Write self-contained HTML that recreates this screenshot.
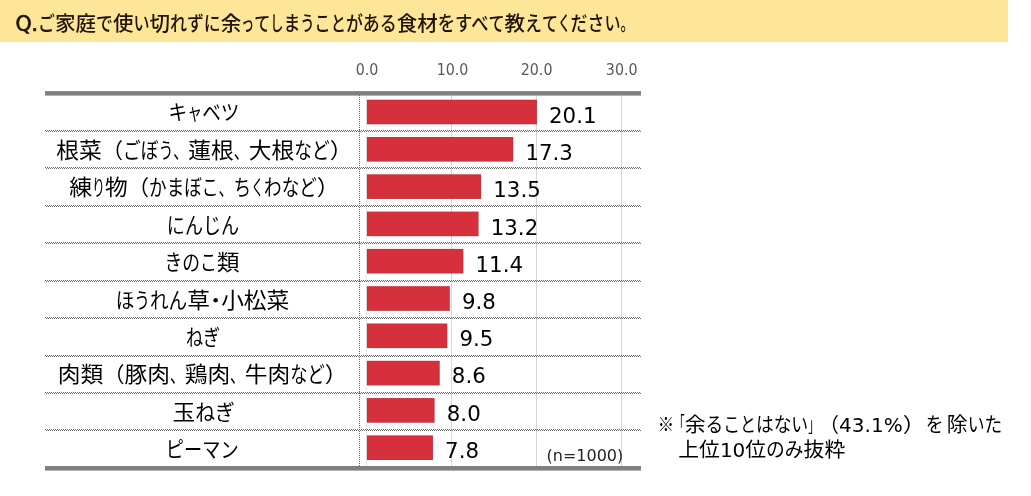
<!DOCTYPE html>
<html lang="ja"><head><meta charset="utf-8"><title>chart</title>
<style>
html,body{margin:0;padding:0;background:#fff;}
body{width:1031px;height:496px;overflow:hidden;}
svg{display:block}
text.c,tspan.c{font-family:'Liberation Sans','Noto Sans CJK JP',sans-serif;}
text.l,tspan.l{font-family:'DejaVu Sans','Liberation Sans',sans-serif;}
</style></head><body>
<svg width="1031" height="496" viewBox="0 0 1031 496">
<rect x="0" y="0" width="1008" height="42" fill="#FEE698"/>
<text y="30.60" font-size="20.5" fill="#20140a" font-weight="500"><tspan class="l" x="15.41" stroke="#20140a" stroke-width="0.7" textLength="22.65" lengthAdjust="spacingAndGlyphs">Q.</tspan><tspan class="c" x="38.06" textLength="16.93" lengthAdjust="spacingAndGlyphs">ご</tspan><tspan class="c" x="54.99" textLength="41.00" lengthAdjust="spacingAndGlyphs">家庭</tspan><tspan class="c" x="95.99" textLength="16.93" lengthAdjust="spacingAndGlyphs">で</tspan><tspan class="c" x="112.92" textLength="20.50" lengthAdjust="spacingAndGlyphs">使</tspan><tspan class="c" x="133.42" textLength="16.08" lengthAdjust="spacingAndGlyphs">い</tspan><tspan class="c" x="149.50" textLength="20.50" lengthAdjust="spacingAndGlyphs">切</tspan><tspan class="c" x="170.00" textLength="50.79" lengthAdjust="spacingAndGlyphs">れずに</tspan><tspan class="c" x="220.79" textLength="20.50" lengthAdjust="spacingAndGlyphs">余</tspan><tspan class="c" x="241.29" textLength="12.87" lengthAdjust="spacingAndGlyphs">っ</tspan><tspan class="c" x="254.16" textLength="16.08" lengthAdjust="spacingAndGlyphs">て</tspan><tspan class="c" x="270.24" textLength="13.20" lengthAdjust="spacingAndGlyphs">し</tspan><tspan class="c" x="283.44" textLength="16.93" lengthAdjust="spacingAndGlyphs">ま</tspan><tspan class="c" x="300.37" textLength="14.22" lengthAdjust="spacingAndGlyphs">う</tspan><tspan class="c" x="314.59" textLength="16.08" lengthAdjust="spacingAndGlyphs">こ</tspan><tspan class="c" x="330.67" textLength="15.24" lengthAdjust="spacingAndGlyphs">と</tspan><tspan class="c" x="345.91" textLength="50.79" lengthAdjust="spacingAndGlyphs">がある</tspan><tspan class="c" x="396.70" textLength="41.00" lengthAdjust="spacingAndGlyphs">食材</tspan><tspan class="c" x="437.70" textLength="50.79" lengthAdjust="spacingAndGlyphs">をすべ</tspan><tspan class="c" x="488.48" textLength="16.08" lengthAdjust="spacingAndGlyphs">て</tspan><tspan class="c" x="504.57" textLength="20.50" lengthAdjust="spacingAndGlyphs">教</tspan><tspan class="c" x="525.07" textLength="16.93" lengthAdjust="spacingAndGlyphs">え</tspan><tspan class="c" x="542.00" textLength="16.08" lengthAdjust="spacingAndGlyphs">て</tspan><tspan class="c" x="558.08" textLength="12.53" lengthAdjust="spacingAndGlyphs">く</tspan><tspan class="c" x="570.61" textLength="33.86" lengthAdjust="spacingAndGlyphs">ださ</tspan><tspan class="c" x="604.46" textLength="16.08" lengthAdjust="spacingAndGlyphs">い</tspan><tspan class="c" x="620.55" textLength="13.54" lengthAdjust="spacingAndGlyphs">。</tspan></text>
<rect x="366" y="95" width="1" height="372" fill="#E6E6E6"/>
<rect x="451" y="95" width="1" height="372" fill="#D6D6D6"/>
<rect x="536" y="95" width="1" height="372" fill="#D6D6D6"/>
<rect x="621" y="95" width="1" height="372" fill="#D6D6D6"/>
<text class="l" x="355.67" y="75.3" font-size="15.0" fill="#595959" textLength="22.66" lengthAdjust="spacingAndGlyphs">0.0</text>
<text class="l" x="436.64" y="75.3" font-size="15.0" fill="#595959" textLength="31.73" lengthAdjust="spacingAndGlyphs">10.0</text>
<text class="l" x="520.74" y="75.3" font-size="15.0" fill="#595959" textLength="31.73" lengthAdjust="spacingAndGlyphs">20.0</text>
<text class="l" x="605.84" y="75.3" font-size="15.0" fill="#595959" textLength="31.73" lengthAdjust="spacingAndGlyphs">30.0</text>
<rect x="366.9" y="99.70" width="169.95" height="24.6" fill="#BC3240"/>
<rect x="367.5" y="100.40" width="168.75" height="23.2" fill="#D5303B"/>
<text y="120.33" font-size="21.33" fill="#000"><tspan class="c" x="168.58" textLength="18.64" lengthAdjust="spacingAndGlyphs">キ</tspan><tspan class="c" x="187.22" textLength="14.91" lengthAdjust="spacingAndGlyphs">ャ</tspan><tspan class="c" x="202.14" textLength="37.29" lengthAdjust="spacingAndGlyphs">ベツ</tspan></text>
<text class="l" x="549.05" y="122.90" font-size="21.33" fill="#000" textLength="47.49" lengthAdjust="spacingAndGlyphs">20.1</text>
<line x1="45" x2="641" y1="130.5" y2="130.5" stroke="#686868" stroke-width="1" stroke-dasharray="1 1"/>
<line x1="45" x2="641" y1="131.5" y2="131.5" stroke="#686868" stroke-width="1" stroke-dasharray="1 1" stroke-dashoffset="1"/>
<rect x="366.9" y="137.00" width="146.28" height="24.6" fill="#BC3240"/>
<rect x="367.5" y="137.70" width="145.08" height="23.2" fill="#D5303B"/>
<text y="157.78" font-size="21.33" fill="#000"><tspan class="c" x="56.29" textLength="45.43" lengthAdjust="spacingAndGlyphs">根菜</tspan><tspan class="c" x="101.73" textLength="21.33" lengthAdjust="spacingAndGlyphs">（</tspan><tspan class="c" x="123.06" textLength="35.40" lengthAdjust="spacingAndGlyphs">ごぼ</tspan><tspan class="c" x="158.46" textLength="14.87" lengthAdjust="spacingAndGlyphs">う</tspan><tspan class="c" x="173.33" textLength="15.05" lengthAdjust="spacingAndGlyphs">、</tspan><tspan class="c" x="188.38" textLength="45.43" lengthAdjust="spacingAndGlyphs">蓮根</tspan><tspan class="c" x="233.81" textLength="15.05" lengthAdjust="spacingAndGlyphs">、</tspan><tspan class="c" x="248.86" textLength="45.43" lengthAdjust="spacingAndGlyphs">大根</tspan><tspan class="c" x="294.29" textLength="35.40" lengthAdjust="spacingAndGlyphs">など</tspan><tspan class="c" x="329.69" textLength="23.01" lengthAdjust="spacingAndGlyphs">）</tspan></text>
<text class="l" x="525.38" y="160.12" font-size="21.33" fill="#000" textLength="47.49" lengthAdjust="spacingAndGlyphs">17.3</text>
<line x1="45" x2="641" y1="167.5" y2="167.5" stroke="#686868" stroke-width="1" stroke-dasharray="1 1"/>
<line x1="45" x2="641" y1="168.5" y2="168.5" stroke="#686868" stroke-width="1" stroke-dasharray="1 1" stroke-dashoffset="1"/>
<rect x="366.9" y="174.30" width="114.18" height="24.6" fill="#BC3240"/>
<rect x="367.5" y="175.00" width="112.98" height="23.2" fill="#D5303B"/>
<text y="195.22" font-size="21.33" fill="#000"><tspan class="c" x="69.32" textLength="22.72" lengthAdjust="spacingAndGlyphs">練</tspan><tspan class="c" x="92.03" textLength="13.01" lengthAdjust="spacingAndGlyphs">り</tspan><tspan class="c" x="105.05" textLength="22.72" lengthAdjust="spacingAndGlyphs">物</tspan><tspan class="c" x="127.76" textLength="21.33" lengthAdjust="spacingAndGlyphs">（</tspan><tspan class="c" x="149.09" textLength="52.75" lengthAdjust="spacingAndGlyphs">かまぼ</tspan><tspan class="c" x="201.84" textLength="16.70" lengthAdjust="spacingAndGlyphs">こ</tspan><tspan class="c" x="218.54" textLength="14.94" lengthAdjust="spacingAndGlyphs">、</tspan><tspan class="c" x="233.49" textLength="17.58" lengthAdjust="spacingAndGlyphs">ち</tspan><tspan class="c" x="251.07" textLength="13.01" lengthAdjust="spacingAndGlyphs">く</tspan><tspan class="c" x="264.08" textLength="52.75" lengthAdjust="spacingAndGlyphs">わなど</tspan><tspan class="c" x="316.83" textLength="22.86" lengthAdjust="spacingAndGlyphs">）</tspan></text>
<text class="l" x="493.27" y="197.34" font-size="21.33" fill="#000" textLength="47.49" lengthAdjust="spacingAndGlyphs">13.5</text>
<line x1="45" x2="641" y1="205.5" y2="205.5" stroke="#686868" stroke-width="1" stroke-dasharray="1 1"/>
<line x1="45" x2="641" y1="206.5" y2="206.5" stroke="#686868" stroke-width="1" stroke-dasharray="1 1" stroke-dashoffset="1"/>
<rect x="366.9" y="211.60" width="111.64" height="24.6" fill="#BC3240"/>
<rect x="367.5" y="212.30" width="110.44" height="23.2" fill="#D5303B"/>
<text y="232.67" font-size="21.33" fill="#000"><tspan class="c" x="166.87" textLength="72.26" lengthAdjust="spacingAndGlyphs">にんじん</tspan></text>
<text class="l" x="490.74" y="234.56" font-size="21.33" fill="#000" textLength="47.49" lengthAdjust="spacingAndGlyphs">13.2</text>
<line x1="45" x2="641" y1="242.5" y2="242.5" stroke="#686868" stroke-width="1" stroke-dasharray="1 1"/>
<line x1="45" x2="641" y1="243.5" y2="243.5" stroke="#686868" stroke-width="1" stroke-dasharray="1 1" stroke-dashoffset="1"/>
<rect x="366.9" y="248.90" width="96.43" height="24.6" fill="#BC3240"/>
<rect x="367.5" y="249.60" width="95.23" height="23.2" fill="#D5303B"/>
<text y="270.12" font-size="21.33" fill="#000"><tspan class="c" x="164.47" textLength="35.48" lengthAdjust="spacingAndGlyphs">きの</tspan><tspan class="c" x="199.96" textLength="16.85" lengthAdjust="spacingAndGlyphs">こ</tspan><tspan class="c" x="216.81" textLength="22.72" lengthAdjust="spacingAndGlyphs">類</tspan></text>
<text class="l" x="475.53" y="271.78" font-size="21.33" fill="#000" textLength="47.49" lengthAdjust="spacingAndGlyphs">11.4</text>
<line x1="45" x2="641" y1="280.5" y2="280.5" stroke="#686868" stroke-width="1" stroke-dasharray="1 1"/>
<line x1="45" x2="641" y1="281.5" y2="281.5" stroke="#686868" stroke-width="1" stroke-dasharray="1 1" stroke-dashoffset="1"/>
<rect x="366.9" y="286.20" width="82.91" height="24.6" fill="#BC3240"/>
<rect x="367.5" y="286.90" width="81.71" height="23.2" fill="#D5303B"/>
<text y="307.57" font-size="21.33" fill="#000"><tspan class="c" x="115.69" textLength="18.64" lengthAdjust="spacingAndGlyphs">ほ</tspan><tspan class="c" x="134.33" textLength="15.66" lengthAdjust="spacingAndGlyphs">う</tspan><tspan class="c" x="149.98" textLength="37.28" lengthAdjust="spacingAndGlyphs">れん</tspan><tspan class="c" x="187.26" textLength="22.72" lengthAdjust="spacingAndGlyphs">草</tspan><tspan class="c" x="204.91">・</tspan><tspan class="c" x="221.17" textLength="68.15" lengthAdjust="spacingAndGlyphs">小松菜</tspan></text>
<text class="l" x="462.01" y="309.00" font-size="21.33" fill="#000" textLength="33.92" lengthAdjust="spacingAndGlyphs">9.8</text>
<line x1="45" x2="641" y1="317.5" y2="317.5" stroke="#686868" stroke-width="1" stroke-dasharray="1 1"/>
<line x1="45" x2="641" y1="318.5" y2="318.5" stroke="#686868" stroke-width="1" stroke-dasharray="1 1" stroke-dashoffset="1"/>
<rect x="366.9" y="323.50" width="80.38" height="24.6" fill="#BC3240"/>
<rect x="367.5" y="324.20" width="79.17" height="23.2" fill="#D5303B"/>
<text y="345.03" font-size="21.33" fill="#000"><tspan class="c" x="185.94" textLength="34.13" lengthAdjust="spacingAndGlyphs">ねぎ</tspan></text>
<text class="l" x="459.47" y="346.22" font-size="21.33" fill="#000" textLength="33.92" lengthAdjust="spacingAndGlyphs">9.5</text>
<line x1="45" x2="641" y1="355.5" y2="355.5" stroke="#686868" stroke-width="1" stroke-dasharray="1 1"/>
<line x1="45" x2="641" y1="356.5" y2="356.5" stroke="#686868" stroke-width="1" stroke-dasharray="1 1" stroke-dashoffset="1"/>
<rect x="366.9" y="360.80" width="72.77" height="24.6" fill="#BC3240"/>
<rect x="367.5" y="361.50" width="71.57" height="23.2" fill="#D5303B"/>
<text y="382.48" font-size="21.33" fill="#000"><tspan class="c" x="57.81" textLength="45.43" lengthAdjust="spacingAndGlyphs">肉類</tspan><tspan class="c" x="103.24" textLength="21.33" lengthAdjust="spacingAndGlyphs">（</tspan><tspan class="c" x="124.57" textLength="45.43" lengthAdjust="spacingAndGlyphs">豚肉</tspan><tspan class="c" x="170.00" textLength="14.67" lengthAdjust="spacingAndGlyphs">、</tspan><tspan class="c" x="184.68" textLength="45.43" lengthAdjust="spacingAndGlyphs">鶏肉</tspan><tspan class="c" x="230.11" textLength="14.67" lengthAdjust="spacingAndGlyphs">、</tspan><tspan class="c" x="244.79" textLength="45.43" lengthAdjust="spacingAndGlyphs">牛肉</tspan><tspan class="c" x="290.22" textLength="34.53" lengthAdjust="spacingAndGlyphs">など</tspan><tspan class="c" x="324.75" textLength="22.44" lengthAdjust="spacingAndGlyphs">）</tspan></text>
<text class="l" x="451.87" y="383.44" font-size="21.33" fill="#000" textLength="33.92" lengthAdjust="spacingAndGlyphs">8.6</text>
<line x1="45" x2="641" y1="392.5" y2="392.5" stroke="#686868" stroke-width="1" stroke-dasharray="1 1"/>
<line x1="45" x2="641" y1="393.5" y2="393.5" stroke="#686868" stroke-width="1" stroke-dasharray="1 1" stroke-dashoffset="1"/>
<rect x="366.9" y="398.10" width="67.70" height="24.6" fill="#BC3240"/>
<rect x="367.5" y="398.80" width="66.50" height="23.2" fill="#D5303B"/>
<text y="419.93" font-size="21.33" fill="#000"><tspan class="c" x="172.58" textLength="22.72" lengthAdjust="spacingAndGlyphs">玉</tspan><tspan class="c" x="195.29" textLength="39.63" lengthAdjust="spacingAndGlyphs">ねぎ</tspan></text>
<text class="l" x="446.80" y="420.66" font-size="21.33" fill="#000" textLength="33.92" lengthAdjust="spacingAndGlyphs">8.0</text>
<line x1="45" x2="641" y1="429.5" y2="429.5" stroke="#686868" stroke-width="1" stroke-dasharray="1 1"/>
<line x1="45" x2="641" y1="430.5" y2="430.5" stroke="#686868" stroke-width="1" stroke-dasharray="1 1" stroke-dashoffset="1"/>
<rect x="366.9" y="435.40" width="66.01" height="24.6" fill="#BC3240"/>
<rect x="367.5" y="436.10" width="64.81" height="23.2" fill="#D5303B"/>
<text y="457.38" font-size="21.33" fill="#000"><tspan class="c" x="165.87" textLength="72.76" lengthAdjust="spacingAndGlyphs">ピーマン</tspan></text>
<text class="l" x="445.11" y="457.88" font-size="21.33" fill="#000" textLength="33.92" lengthAdjust="spacingAndGlyphs">7.8</text>
<line x1="359.5" x2="359.5" y1="95" y2="467" stroke="#606060" stroke-width="1" stroke-dasharray="1 1"/>
<rect x="45" y="91.1" width="596" height="4.5" fill="#808080"/>
<rect x="45" y="466.0" width="596" height="4.6" fill="#808080"/>
<text class="l" x="546.5" y="461.3" font-size="16" fill="#222" textLength="76.75" lengthAdjust="spacingAndGlyphs">(n=1000)</text>
<text y="431.70" font-size="20" fill="#000"><tspan class="c" x="657.81" textLength="16.28" lengthAdjust="spacingAndGlyphs">※</tspan><tspan class="c" x="674.09" textLength="10.62" lengthAdjust="spacingAndGlyphs">「</tspan><tspan class="c" x="684.71" textLength="20.80" lengthAdjust="spacingAndGlyphs">余</tspan><tspan class="c" x="705.51" textLength="17.69" lengthAdjust="spacingAndGlyphs">る</tspan><tspan class="c" x="723.20" textLength="16.81" lengthAdjust="spacingAndGlyphs">こ</tspan><tspan class="c" x="740.01" textLength="15.93" lengthAdjust="spacingAndGlyphs">と</tspan><tspan class="c" x="755.94" textLength="35.39" lengthAdjust="spacingAndGlyphs">はな</tspan><tspan class="c" x="791.33" textLength="16.81" lengthAdjust="spacingAndGlyphs">い</tspan><tspan class="c" x="808.14" textLength="10.97" lengthAdjust="spacingAndGlyphs">」</tspan><tspan class="c" x="819.11" textLength="20.00" lengthAdjust="spacingAndGlyphs">（</tspan><tspan class="l" x="839.11" textLength="63.54" lengthAdjust="spacingAndGlyphs">43.1%</tspan><tspan class="c" x="902.65" textLength="23.00" lengthAdjust="spacingAndGlyphs">）</tspan><tspan class="c" x="925.65" textLength="17.69" lengthAdjust="spacingAndGlyphs">を</tspan><tspan class="c" x="943.34" textLength="3.54" lengthAdjust="spacingAndGlyphs"> </tspan><tspan class="c" x="946.88" textLength="20.80" lengthAdjust="spacingAndGlyphs">除</tspan><tspan class="c" x="967.68" textLength="16.81" lengthAdjust="spacingAndGlyphs">い</tspan><tspan class="c" x="984.49" textLength="17.69" lengthAdjust="spacingAndGlyphs">た</tspan></text>
<text y="456.50" font-size="20" fill="#000"><tspan class="c" x="678.27" textLength="41.60" lengthAdjust="spacingAndGlyphs">上位</tspan><tspan class="l" x="719.88" textLength="25.45" lengthAdjust="spacingAndGlyphs">10</tspan><tspan class="c" x="745.33" textLength="20.80" lengthAdjust="spacingAndGlyphs">位</tspan><tspan class="c" x="766.12" textLength="37.50" lengthAdjust="spacingAndGlyphs">のみ</tspan><tspan class="c" x="803.62" textLength="41.60" lengthAdjust="spacingAndGlyphs">抜粋</tspan></text>
</svg>
</body></html>
